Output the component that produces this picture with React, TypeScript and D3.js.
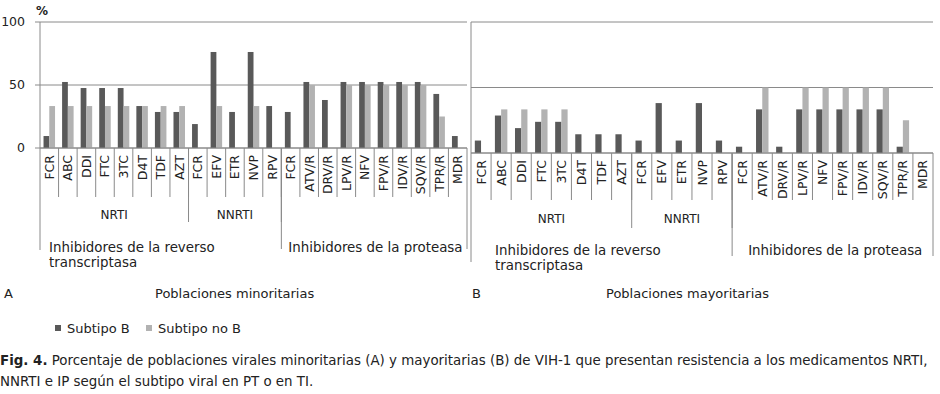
import React from "react";
import * as d3 from "d3";

// categories (drugs), grouped by class and family
const drugs = ["FCR", "ABC", "DDI", "FTC", "3TC", "D4T", "TDF", "AZT", "FCR", "EFV", "ETR", "NVP", "RPV", "FCR", "ATV/R", "DRV/R", "LPV/R", "NFV", "FPV/R", "IDV/R", "SQV/R", "TPR/R", "MDR"];
const classNames = ["NRTI", "NNRTI", ""];
const classSizes = [8, 5, 10];
const familyNames = [["Inhibidores de la reverso", "transcriptasa"], ["Inhibidores de la proteasa"]];
const familySizes = [13, 10];

// A: poblaciones minoritarias (%)
const minSubB = [9.5, 52.4, 47.6, 47.6, 47.6, 33.3, 28.6, 28.6, 19.0, 76.2, 28.6, 76.2, 33.3, 28.6, 52.4, 38.1, 52.4, 52.4, 52.4, 52.4, 52.4, 42.9, 9.5];
const minNoB = [33.3, 33.3, 33.3, 33.3, 33.3, 33.3, 33.3, 33.3, 0, 33.3, 0, 33.3, 0, 0, 50, 0, 50, 50, 50, 50, 50, 25, 0];
// B: poblaciones mayoritarias (%)
const majSubB = [9.5, 28.6, 19.0, 23.8, 23.8, 14.3, 14.3, 14.3, 9.5, 38.1, 9.5, 38.1, 9.5, 4.8, 33.3, 4.8, 33.3, 33.3, 33.3, 33.3, 33.3, 4.8, 0];
const majNoB = [0, 33.3, 33.3, 33.3, 33.3, 0, 0, 0, 0, 0, 0, 0, 0, 0, 50, 0, 50, 50, 50, 50, 50, 25, 0];

const yTicks = [0, 50, 100];
const seriesNames = ["Subtipo B", "Subtipo no B"];
const colors = ["#595959", "#b2b2b2"];
const lineColor = "#8a8a8a";
const font = "DejaVu Sans";

const panels = [
  { x0: 40, x1: 467, top: 22, base: 148, l1: 197, l2: 222, l3: 249, axisEnd: 250, lbl1: 155, lbl2: 215, lbl3: 247, pad3: [9, 7], sub: minSubB, noB: minNoB, showY: true },
  { x0: 471, x1: 933, top: 22, base: 153, l1: 200, l2: 228, l3: 256, axisEnd: 262, lbl1: 160, lbl2: 219, lbl3: 250, pad3: [24, 16], sub: majSubB, noB: majNoB, showY: false },
];

function Panel({ p }: { p: any }) {
  const x = d3.scaleBand<number>().domain(d3.range(drugs.length)).range([p.x0, p.x1]).paddingInner(0).paddingOuter(0);
  const y = d3.scaleLinear().domain([0, 100]).range([p.base, p.top]);
  const bw = x.bandwidth() * 0.31;
  const classStarts = d3.cumsum([0, ...classSizes]);
  const famStarts = d3.cumsum([0, ...familySizes]);
  const edge = (i: number) => (i >= drugs.length ? p.x1 : (x(i) as number));

  return (
    <g>
      {yTicks.map((t) => (
        <line key={"g" + t} x1={p.showY ? p.x0 - 5 : p.x0} x2={p.x1} y1={y(t)} y2={y(t)} stroke={lineColor} strokeWidth={1} />
      ))}
      {p.showY &&
        yTicks.map((t) => (
          <text key={"t" + t} x={25} y={y(t)} dy="0.35em" textAnchor="end" fontSize={12.5} fontFamily={font} fill="#222">
            {t}
          </text>
        ))}
      {drugs.map((d, i) => {
        const c = (x(i) as number) + x.bandwidth() / 2;
        return (
          <g key={i}>
            {p.sub[i] > 0 && <rect x={c - bw} y={y(p.sub[i])} width={bw} height={p.base - y(p.sub[i])} fill={colors[0]} />}
            {p.noB[i] > 0 && <rect x={c} y={y(p.noB[i])} width={bw} height={p.base - y(p.noB[i])} fill={colors[1]} />}
            <text transform={`translate(${c},${p.lbl1}) rotate(-90)`} textAnchor="end" dy="0.36em" fontSize={12.5} fontFamily={font} fill="#222">
              {d}
            </text>
            {i > 0 && <line x1={x(i)} x2={x(i)} y1={p.base} y2={p.l1} stroke={lineColor} />}
          </g>
        );
      })}
      {/* class level */}
      {classNames.map((n, k) => {
        const a = edge(classStarts[k]);
        const b = edge(classStarts[k + 1]);
        return (
          <g key={"c" + k}>
            {k > 0 && <line x1={a} x2={a} y1={p.base} y2={p.l2} stroke={lineColor} />}
            <text x={(a + b) / 2} y={p.lbl2} dy="0.35em" textAnchor="middle" fontSize={12} fontFamily={font} fill="#222">
              {n}
            </text>
          </g>
        );
      })}
      {/* family level */}
      {familyNames.map((lines, k) => {
        const a = edge(famStarts[k]);
        return (
          <g key={"f" + k}>
            {k > 0 && <line x1={a} x2={a} y1={p.base} y2={p.l3} stroke={lineColor} />}
            <text x={a + p.pad3[k]} y={p.lbl3} fontSize={13.4} fontFamily={font} fill="#222">
              {lines.map((l, j) => (
                <tspan key={j} x={a + p.pad3[k]} dy={j === 0 ? "0.35em" : 15}>
                  {l}
                </tspan>
              ))}
            </text>
          </g>
        );
      })}
      <line x1={p.x0} x2={p.x0} y1={p.top} y2={p.axisEnd} stroke={lineColor} />
      <line x1={p.x1} x2={p.x1} y1={p.base} y2={p.l3} stroke={lineColor} />
      <line x1={p.x0} x2={p.x1} y1={p.base} y2={p.base} stroke={lineColor} />
    </g>
  );
}

export default function App() {
  return (
    <svg width={940} height={394} style={{ position: "absolute", left: 0, top: 0, background: "#fff" }}>
      <text x={36} y={11} dy="0.35em" fontSize={12} fontWeight="bold" fontFamily={font} fill="#222">%</text>
      {panels.map((p, i) => (
        <Panel key={i} p={p} />
      ))}
      <g fontFamily={font} fontSize={13} fill="#222">
        <text x={4} y={293} dy="0.35em">A</text>
        <text x={155} y={293} dy="0.35em">Poblaciones minoritarias</text>
        <text x={472} y={293} dy="0.35em">B</text>
        <text x={606} y={293} dy="0.35em">Poblaciones mayoritarias</text>
      </g>
      {seriesNames.map((s, i) => {
        const lx = [55, 146][i];
        return (
          <g key={s}>
            <rect x={lx} y={325} width={6} height={6} fill={colors[i]} />
            <text x={lx + 12} y={328} dy="0.35em" fontSize={13} fontFamily={font} fill="#222">{s}</text>
          </g>
        );
      })}
      <g fontFamily={font} fontSize={13.4} fill="#222">
        <text x={0} y={360} dy="0.35em">
          <tspan fontWeight="bold">Fig. 4.</tspan> Porcentaje de poblaciones virales minoritarias (A) y mayoritarias (B) de VIH-1 que presentan resistencia a los medicamentos NRTI,
        </text>
        <text x={0} y={381} dy="0.35em">NNRTI e IP según el subtipo viral en PT o en TI.</text>
      </g>
    </svg>
  );
}
